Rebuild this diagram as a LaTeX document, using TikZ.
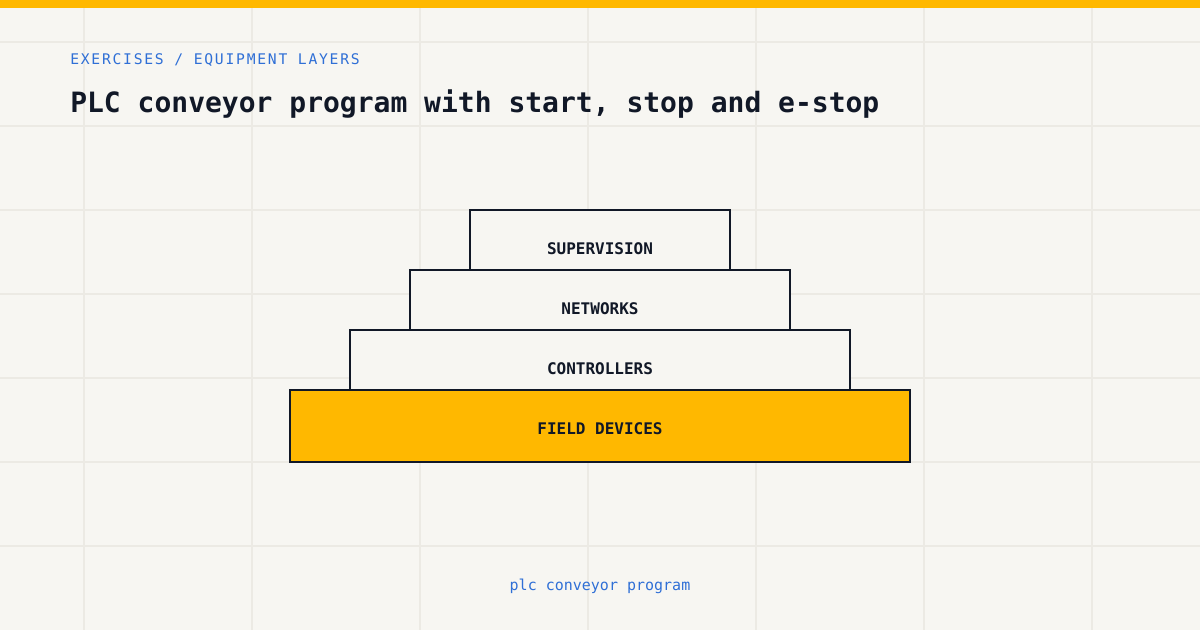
\documentclass[tikz,border=0pt]{standalone}
\usepackage{fontspec}
\setmonofont{DejaVu Sans Mono}
\newfontfamily\kickerfont[LetterSpace=12]{DejaVu Sans Mono}
\usetikzlibrary{positioning}

\definecolor{paper}{HTML}{F7F6F2}
\definecolor{gridgray}{HTML}{ECEAE4}
\definecolor{amber}{HTML}{FFB800}
\definecolor{ink}{HTML}{111827}
\definecolor{linkblue}{HTML}{2F6FD6}

\tikzset{
  layer/.style={rectangle, draw=ink, line width=1.5pt, fill=paper, inner sep=0pt, outer sep=0pt},
  layerlabel/.style={font=\ttfamily\bfseries\fontsize{12}{14}\selectfont, text=ink, inner sep=0pt},
  gridline/.style={draw=gridgray, line width=1.1pt}
}

\begin{document}
\begin{tikzpicture}[x=0.75pt, y=-0.75pt]

   \fill[paper] (0,0) rectangle (1200,630);
   \useasboundingbox (0,0) rectangle (1200,630);

   \foreach \x in {84,252,...,1092}
     \draw[gridline] (\x,0) -- (\x,630);
   \foreach \y in {42,126,...,546}
     \draw[gridline] (0,\y) -- (1200,\y);

   \fill[amber] (0,0) rectangle (1200,8);

   \node[anchor=base west, inner sep=0pt, text=linkblue, font=\kickerfont\fontsize{11}{13}\selectfont]
      (kicker) at (70,64.5) {EXERCISES / EQUIPMENT LAYERS};
   \node[anchor=base west, inner sep=0pt, text=ink, font=\ttfamily\bfseries\fontsize{21}{25}\selectfont]
      (title) at (70,112.5) {PLC conveyor program with start, stop and e-stop};

   \foreach \n/\y/\w/\t in {sup/240/260/SUPERVISION, net/300/380/NETWORKS, ctl/360/500/CONTROLLERS}
     \node[layer, minimum width=\w*0.75pt, minimum height=45pt]
        (\n) at (600,\y) {};
   \node[layer, fill=amber, minimum width=465pt, minimum height=54pt]
      (field) at (600,426) {};

   \foreach \n/\t in {sup/SUPERVISION, net/NETWORKS, ctl/CONTROLLERS, field/FIELD DEVICES}
     \node[layerlabel] (\n-label) at ([yshift=-29.25pt]\n.north) {\t};

   \node[anchor=base, inner sep=0pt, text=linkblue, font=\ttfamily\fontsize{11.25}{13}\selectfont]
      (footer) at (600,590) {plc conveyor program};

\end{tikzpicture}
\end{document}
